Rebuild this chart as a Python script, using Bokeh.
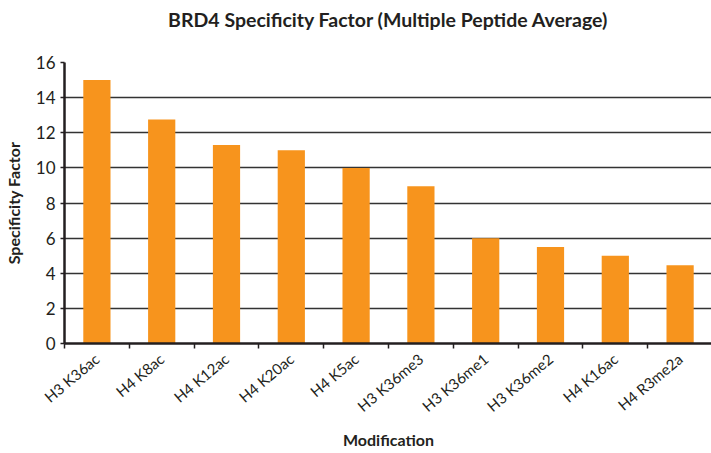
import math
from bokeh.plotting import figure
from bokeh.models import Range1d, FixedTicker, ColumnDataSource, Title
from bokeh.embed import file_html
from bokeh.resources import INLINE

categories = ["H3 K36ac", "H4 K8ac", "H4 K12ac", "H4 K20ac", "H4 K5ac",
              "H3 K36me3", "H3 K36me1", "H3 K36me2", "H4 K16ac", "H4 R3me2a"]
values = [15.0, 12.75, 11.3, 11.0, 10.0, 8.95, 6.0, 5.5, 5.0, 4.45]
y_ticks = [0, 2, 4, 6, 8, 10, 12, 14, 16]

positions = list(range(1, len(categories) + 1))
boundaries = [p - 0.5 for p in positions] + [len(categories) + 0.5]

FONT = "Lato"
DARK = "#231f20"

src = ColumnDataSource(dict(x=positions, top=values, cat=categories))

p = figure(frame_width=648, frame_height=281, output_backend="svg", toolbar_location=None,
           x_range=Range1d(0.5, len(categories) + 0.5), y_range=Range1d(0, 16),
           title="BRD4 Specificity Factor (Multiple Peptide Average)",
           min_border_left=55, min_border_right=0, min_border_top=61, min_border_bottom=100)
p.outline_line_color = None

# empty spacer between the frame and the title
p.add_layout(Title(text=" ", text_font_size="22px", standoff=0), "above")

p.vbar(x="x", top="top", width=0.42, bottom=0, source=src, color="#F7941D", line_color=None)

p.title.align = "center"
p.title.text_font = FONT
p.title.text_font_style = "bold"
p.title.text_font_size = "19.5px"
p.title.text_color = DARK

# y axis
p.yaxis.ticker = FixedTicker(ticks=y_ticks)
p.yaxis.axis_label = "Specificity Factor"
p.yaxis.axis_label_text_font = FONT
p.yaxis.axis_label_text_font_style = "bold"
p.yaxis.axis_label_text_font_size = "16px"
p.yaxis.axis_label_text_color = DARK
p.yaxis.axis_label_standoff = 10
p.yaxis.major_label_text_font = FONT
p.yaxis.major_label_text_font_size = "17px"
p.yaxis.major_label_text_color = DARK
p.yaxis.axis_line_color = DARK
p.yaxis.axis_line_width = 2.5
p.yaxis.major_tick_line_color = DARK
p.yaxis.major_tick_line_width = 1.5
p.yaxis.major_tick_out = 4
p.yaxis.major_tick_in = 0
p.yaxis.minor_tick_line_color = None
p.yaxis.major_label_standoff = 5

# x axis
p.xaxis.ticker = FixedTicker(ticks=positions, minor_ticks=boundaries)
p.xaxis.major_label_overrides = {pos: c for pos, c in zip(positions, categories)}
p.xaxis.major_label_orientation = math.radians(40)
p.xaxis.axis_label = "Modification"
p.xaxis.axis_label_text_font = FONT
p.xaxis.axis_label_text_font_style = "bold"
p.xaxis.axis_label_text_font_size = "16px"
p.xaxis.axis_label_text_color = DARK
p.xaxis.axis_label_standoff = 5
p.xaxis.major_label_text_font = FONT
p.xaxis.major_label_text_font_size = "15px"
p.xaxis.major_label_text_color = DARK
p.xaxis.axis_line_color = DARK
p.xaxis.axis_line_width = 2.5
p.xaxis.major_tick_line_color = None
p.xaxis.major_tick_out = 0
p.xaxis.major_tick_in = 0
p.xaxis.minor_tick_line_color = DARK
p.xaxis.minor_tick_line_width = 1.5
p.xaxis.minor_tick_out = 5
p.xaxis.minor_tick_in = 0
p.xaxis.major_label_standoff = 8

p.xgrid.grid_line_color = None
p.ygrid.grid_line_color = "#333333"
p.ygrid.grid_line_width = 1.5

open("out.html", "w").write(file_html(p, INLINE))
